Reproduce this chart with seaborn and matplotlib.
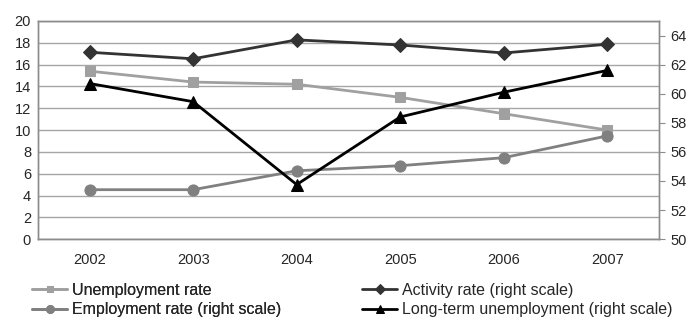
import numpy as np
import pandas as pd
import seaborn as sns
import matplotlib.pyplot as plt

years = ["2002", "2003", "2004", "2005", "2006", "2007"]
unemployment = [15.4, 14.4, 14.2, 13.0, 11.5, 10.0]
activity = [62.85, 62.4, 63.7, 63.35, 62.8, 63.4]
employment = [53.4, 53.4, 54.7, 55.05, 55.6, 57.1]
long_term = [60.7, 59.45, 53.75, 58.4, 60.1, 61.6]

sns.set_style("white")
plt.rcParams['font.family'] = ['Liberation Sans', 'DejaVu Sans']
plt.rcParams['font.size'] = 10.5

x = np.arange(len(years))

fig = plt.figure(figsize=(6.9, 3.18), dpi=100)
ax = fig.add_axes([0.055, 0.248, 0.900, 0.686])
ax2 = ax.twinx()

sns.lineplot(x=x, y=unemployment, ax=ax, color="#A0A0A0", marker="s", markersize=7,
             markeredgecolor="#A0A0A0", linewidth=2, label="Unemployment rate", legend=False)
sns.lineplot(x=x, y=employment, ax=ax2, color="#808080", marker="o", markersize=8,
             markeredgecolor="#808080", linewidth=2, label="Employment rate (right scale)", legend=False)
sns.lineplot(x=x, y=activity, ax=ax2, color="#333333", marker="D", markersize=7,
             markeredgecolor="#333333", linewidth=2, label="Activity rate (right scale)", legend=False)
sns.lineplot(x=x, y=long_term, ax=ax2, color="black", marker="^", markersize=8,
             markeredgecolor="black", linewidth=2, label="Long-term unemployment (right scale)", legend=False)

ax.set_xlim(-0.5, 5.5)
ax.set_ylim(0, 20)
ax.set_yticks(range(0, 21, 2))
ax.set_xticks(x)
ax.set_xticklabels(years)
ax2.set_ylim(50, 65)
ax2.set_yticks(range(50, 65, 2))

ax.grid(axis="y", color="#A6A6A6", linewidth=1)
ax.set_axisbelow(True)
for a in (ax, ax2):
    for s in a.spines.values():
        s.set_color("#8C8C8C")
        s.set_linewidth(1)
ax.tick_params(axis="x", length=0, pad=10, labelsize=10.5)
ax.tick_params(axis="y", length=0, pad=5, labelsize=10.5)
ax2.tick_params(axis="y", length=4, color="#8C8C8C", pad=4, labelsize=10.5)
ax.set_xlabel("")
ax.set_ylabel("")
ax2.set_ylabel("")

h1, l1 = ax.get_legend_handles_labels()
h2, l2 = ax2.get_legend_handles_labels()
leg_kw = dict(loc="upper left", frameon=False, fontsize=11.5, handlelength=2.2,
              handletextpad=0.3, labelspacing=0.3, markerscale=0.7,
              borderpad=0, borderaxespad=0)
leg1 = fig.legend([h1[0], h2[0]], [l1[0], l2[0]], bbox_to_anchor=(32 / 690, 0.111), **leg_kw)
fig.add_artist(leg1)
fig.legend([h2[1], h2[2]], [l2[1], l2[2]], bbox_to_anchor=(362 / 690, 0.111), **leg_kw)

fig.savefig("out.png", dpi=100)
